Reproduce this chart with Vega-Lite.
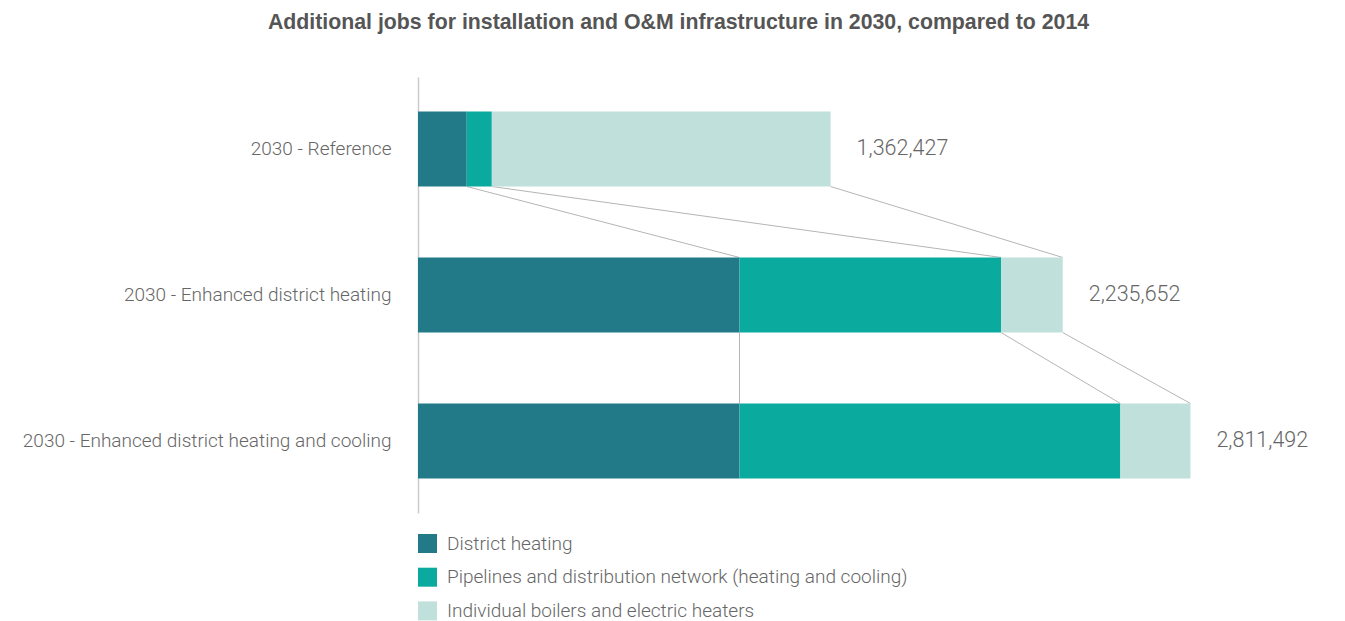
{
  "$schema": "https://vega.github.io/schema/vega-lite/v6.json",
  "width": 865,
  "height": 436,
  "autosize": {"type": "none"},
  "padding": {"left": 418, "top": 77, "right": 62, "bottom": 108},
  "background": "white",
  "title": {
    "text": "Additional jobs for installation and O&M infrastructure in 2030, compared to 2014",
    "anchor": "middle",
    "frame": "group",
    "dx": -172,
    "offset": 27,
    "baseline": "alphabetic",
    "font": "Liberation Sans",
    "fontSize": 21.3,
    "fontWeight": "bold",
    "color": "#555555"
  },
  "datasets": {
    "segments": [
      {"scenario": "2030 - Reference", "type": "District heating", "jobs": 169000},
      {"scenario": "2030 - Reference", "type": "Pipelines and distribution network (heating and cooling)", "jobs": 87000},
      {"scenario": "2030 - Reference", "type": "Individual boilers and electric heaters", "jobs": 1175000},
      {"scenario": "2030 - Enhanced district heating", "type": "District heating", "jobs": 1115000},
      {"scenario": "2030 - Enhanced district heating", "type": "Pipelines and distribution network (heating and cooling)", "jobs": 907000},
      {"scenario": "2030 - Enhanced district heating", "type": "Individual boilers and electric heaters", "jobs": 214000},
      {"scenario": "2030 - Enhanced district heating and cooling", "type": "District heating", "jobs": 1115000},
      {"scenario": "2030 - Enhanced district heating and cooling", "type": "Pipelines and distribution network (heating and cooling)", "jobs": 1321000},
      {"scenario": "2030 - Enhanced district heating and cooling", "type": "Individual boilers and electric heaters", "jobs": 243000}
    ],
    "connectors": [
      {"from_scenario": "2030 - Reference", "to_scenario": "2030 - Enhanced district heating", "from_jobs": 169000, "to_jobs": 1115000},
      {"from_scenario": "2030 - Reference", "to_scenario": "2030 - Enhanced district heating", "from_jobs": 256000, "to_jobs": 2022000},
      {"from_scenario": "2030 - Reference", "to_scenario": "2030 - Enhanced district heating", "from_jobs": 1431000, "to_jobs": 2236000},
      {"from_scenario": "2030 - Enhanced district heating", "to_scenario": "2030 - Enhanced district heating and cooling", "from_jobs": 1115000, "to_jobs": 1115000},
      {"from_scenario": "2030 - Enhanced district heating", "to_scenario": "2030 - Enhanced district heating and cooling", "from_jobs": 2022000, "to_jobs": 2436000},
      {"from_scenario": "2030 - Enhanced district heating", "to_scenario": "2030 - Enhanced district heating and cooling", "from_jobs": 2236000, "to_jobs": 2679000}
    ],
    "totals": [
      {"scenario": "2030 - Reference", "bar_end": 1431000, "label": "1,362,427"},
      {"scenario": "2030 - Enhanced district heating", "bar_end": 2236000, "label": "2,235,652"},
      {"scenario": "2030 - Enhanced district heating and cooling", "bar_end": 2679000, "label": "2,811,492"}
    ]
  },
  "config": {
    "view": {"stroke": null},
    "axis": {"grid": false},
    "legend": {
      "orient": "none",
      "legendX": 0,
      "legendY": 457,
      "direction": "vertical",
      "symbolType": "square",
      "symbolSize": 361,
      "symbolStrokeWidth": 0,
      "labelFont": "Roboto",
      "labelFontWeight": 300,
      "labelFontSize": 19,
      "labelColor": "#666666",
      "labelOffset": 10,
      "rowPadding": 13.7,
      "labelLimit": 800,
      "padding": 0
    }
  },
  "layer": [
    {
      "data": {"name": "connectors"},
      "mark": {"type": "rule", "color": "#b5b5b5", "strokeWidth": 1},
      "encoding": {
        "y": {"field": "from_scenario", "type": "nominal", "bandPosition": 1, "title": null,
          "scale": {"domain": ["2030 - Reference", "2030 - Enhanced district heating", "2030 - Enhanced district heating and cooling"], "paddingInner": 0.486, "paddingOuter": 0.236}},
        "y2": {"field": "to_scenario", "bandPosition": 0},
        "x": {"field": "from_jobs", "type": "quantitative", "axis": null, "scale": {"domain": [0, 3000000], "nice": false}},
        "x2": {"field": "to_jobs"}
      }
    },
    {
      "data": {"name": "segments"},
      "transform": [
        {"calculate": "indexof(['District heating','Pipelines and distribution network (heating and cooling)','Individual boilers and electric heaters'], datum.type)", "as": "stack_order"}
      ],
      "mark": {"type": "bar"},
      "encoding": {
        "y": {
          "field": "scenario",
          "type": "nominal",
          "title": null,
          "scale": {
            "domain": ["2030 - Reference", "2030 - Enhanced district heating", "2030 - Enhanced district heating and cooling"],
            "paddingInner": 0.486,
            "paddingOuter": 0.236
          },
          "axis": {
            "domainColor": "#cccccc",
            "domainWidth": 1.5,
            "ticks": false,
            "labelPadding": 27,
            "labelFont": "Roboto",
            "labelFontWeight": 300,
            "labelFontSize": 19,
            "labelColor": "#666666",
            "labelLimit": 500
          }
        },
        "x": {
          "field": "jobs",
          "type": "quantitative",
          "stack": "zero",
          "axis": null,
          "scale": {"domain": [0, 3000000], "nice": false}
        },
        "color": {
          "field": "type",
          "type": "nominal",
          "legend": {"title": null},
          "scale": {
            "domain": ["District heating", "Pipelines and distribution network (heating and cooling)", "Individual boilers and electric heaters"],
            "range": ["#227a88", "#0aab9e", "#bfe0db"]
          }
        },
        "order": {"field": "stack_order", "type": "quantitative"}
      }
    },
    {
      "data": {"name": "totals"},
      "mark": {"type": "text", "align": "left", "baseline": "middle", "dx": 26, "font": "Roboto", "fontWeight": 300, "fontSize": 21.5, "color": "#666666"},
      "encoding": {
        "y": {"field": "scenario", "type": "nominal", "title": null,
          "scale": {"domain": ["2030 - Reference", "2030 - Enhanced district heating", "2030 - Enhanced district heating and cooling"], "paddingInner": 0.486, "paddingOuter": 0.236}},
        "x": {"field": "bar_end", "type": "quantitative", "axis": null, "scale": {"domain": [0, 3000000], "nice": false}},
        "text": {"field": "label", "type": "nominal"}
      }
    }
  ]
}
